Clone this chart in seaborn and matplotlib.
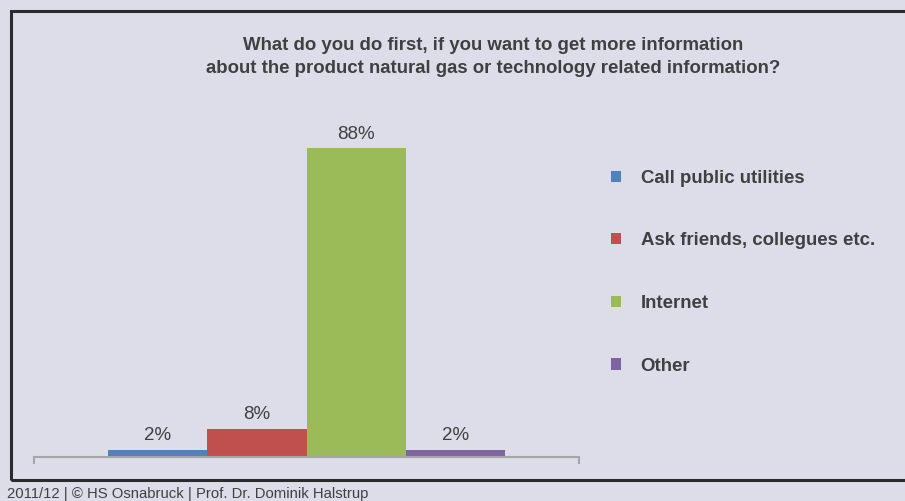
import matplotlib
matplotlib.use("Agg")
import matplotlib.pyplot as plt
from matplotlib.patches import Rectangle, Patch
import seaborn as sns
import pandas as pd

# Survey answers and their shares (percent)
answers = ["Call public utilities", "Ask friends, collegues etc.", "Internet", "Other"]
shares = [2, 8, 88, 2]
colors = ["#4F81BD", "#C0504D", "#9BBB59", "#8064A2"]

title = ("What do you do first, if you want to get more information\n"
         "about the product natural gas or technology related information?")
footer = "2011/12 | \u00a9 HS Osnabruck | Prof. Dr. Dominik Halstrup"

bg = "#DCDDE9"
text_col = "#404040"

sns.set_theme(style="white")
plt.rcParams["font.family"] = ["Liberation Sans", "DejaVu Sans"]

W, H = 905, 501
fig = plt.figure(figsize=(W / 100, H / 100), dpi=100, facecolor=bg)

# frame around the chart area
fig.patches.append(Rectangle((11 / W, 1 - 480 / H), 910 / W, (480 - 11) / H,
                             transform=fig.transFigure, fill=False,
                             edgecolor="#2b2b2b", linewidth=2.2, zorder=0))

# plot area: baseline at y=457px, 100% at y=106px
left, right, base, top = 34, 579, 457, 106
ax = fig.add_axes([left / W, 1 - base / H, (right - left) / W, (base - top) / H])
ax.set_facecolor("none")

df = pd.DataFrame({"group": ["q"] * len(answers), "answer": answers, "share": shares})
sns.barplot(data=df, x="group", y="share", hue="answer", hue_order=answers,
            palette=colors, width=397 / 545, saturation=1, linewidth=0,
            ax=ax, legend=False)

ax.set_xlim(-0.5, 0.5)
ax.set_ylim(0, 100)
for c in ax.containers:
    ax.bar_label(c, fmt="%g%%", padding=4, fontsize=13.5, color=text_col)

for s in ["top", "right", "left"]:
    ax.spines[s].set_visible(False)
ax.spines["bottom"].set_color("#A6A6A6")
ax.spines["bottom"].set_linewidth(1.5)
ax.set_xticks([-0.5, 0.5])
ax.set_xticklabels([])
ax.tick_params(axis="x", bottom=True, length=5, width=1.5, color="#A6A6A6", direction="out")
ax.set_yticks([])
ax.set_xlabel("")
ax.set_ylabel("")

# title
fig.text(493 / W, 1 - 57 / H, title, ha="center", va="center", fontsize=13.4,
         fontweight="bold", color=text_col, linespacing=1.5)

# legend
handles = [Patch(facecolor=c, edgecolor="none") for c in colors]
leg = ax.legend(handles, answers, loc="upper left",
                bbox_to_anchor=(594 / W, 1 - 153 / H), bbox_transform=fig.transFigure,
                frameon=False, fontsize=13.4, labelspacing=2.45,
                handlelength=0.55, handleheight=0.55, handletextpad=1.05)
for t in leg.get_texts():
    t.set_color(text_col)
    t.set_fontweight("bold")

# footer
fig.text(7 / W, 1 - 487 / H, footer, ha="left", va="top", fontsize=10.7, color=text_col)

fig.savefig("out.png", dpi=100, facecolor=bg)
